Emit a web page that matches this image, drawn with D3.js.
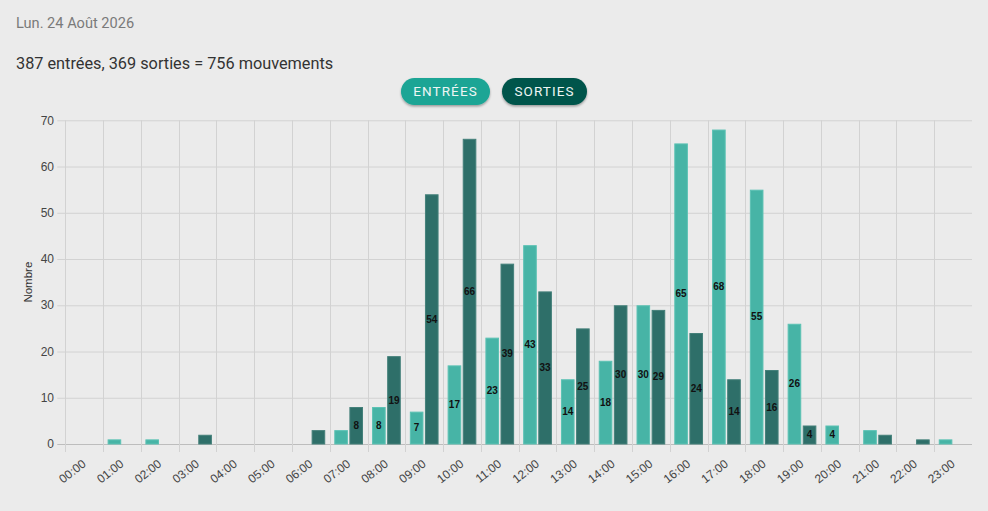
<!DOCTYPE html>
<html>
<head>
<meta charset="utf-8">
<script src="https://cdn.jsdelivr.net/npm/d3@7"></script>
<style>
  body { margin: 0; background: #ebebeb; overflow: hidden; }
  svg { display: block; }
</style>
</head>
<body>
<div id="canvas"></div>
<script>
// mouvements par heure : entrées / sorties
const hours = d3.range(0, 24);
const hourLabels = ["00:00","01:00","02:00","03:00","04:00","05:00","06:00","07:00","08:00","09:00","10:00","11:00",
                    "12:00","13:00","14:00","15:00","16:00","17:00","18:00","19:00","20:00","21:00","22:00","23:00"];
const entrees = [0, 1, 1, 0, 0, 0, 0, 3, 8, 7, 17, 23, 43, 14, 18, 30, 65, 68, 55, 26, 4, 3, 0, 1];
const sorties = [0, 0, 0, 2, 0, 0, 3, 8, 19, 54, 66, 39, 33, 25, 30, 29, 24, 14, 16, 4, 0, 2, 1, 0];
const yTicks = [0, 10, 20, 30, 40, 50, 60, 70];
const series = ["entrees", "sorties"];
const dateLabel = "Lun. 24 Août 2026";

const width = 988;
const height = 511;
const marginLeft = 65.3;
const marginRight = 16;
const marginTop = 120.3;
const plotBottom = 444;

const totalIn = d3.sum(entrees);
const totalOut = d3.sum(sorties);

const svg = d3.select("#canvas")
    .append("svg")
    .attr("width", width)
    .attr("height", height)
    .attr("viewBox", [0, 0, width, height]);

// shadow for the pills
const defs = svg.append("defs");
defs.append("filter")
    .attr("id", "shadow")
    .attr("x", "-20%").attr("y", "-30%").attr("width", "140%").attr("height", "170%")
  .append("feDropShadow")
    .attr("dx", 0).attr("dy", 1.5)
    .attr("stdDeviation", 1.3)
    .attr("flood-color", "#000")
    .attr("flood-opacity", 0.35);

// header
svg.append("text")
    .attr("x", 16).attr("y", 28)
    .attr("font-family", "Roboto, sans-serif")
    .attr("font-size", 14.6)
    .attr("fill", "#7a7a7a")
    .text(dateLabel);

svg.append("text")
    .attr("x", 16).attr("y", 69)
    .attr("font-family", "Roboto, sans-serif")
    .attr("font-size", 16.3)
    .attr("fill", "#333")
    .text(`${totalIn} entrées, ${totalOut} sorties = ${totalIn + totalOut} mouvements`);

// legend buttons
const buttons = [
    {label: "ENTRÉES", x: 401, w: 89, color: "#1ba595"},
    {label: "SORTIES", x: 502, w: 85, color: "#00554b"}
];
const btn = svg.append("g")
    .selectAll("g")
    .data(buttons)
    .join("g")
        .attr("transform", d => `translate(${d.x},78)`);
btn.append("rect")
    .attr("width", d => d.w)
    .attr("height", 27)
    .attr("rx", 13.5)
    .attr("fill", d => d.color)
    .attr("filter", "url(#shadow)");
btn.append("text")
    .attr("x", d => d.w / 2)
    .attr("y", 18.3)
    .attr("text-anchor", "middle")
    .attr("font-family", "Roboto, sans-serif")
    .attr("font-size", 13.5)
    .attr("letter-spacing", 1.1)
    .attr("fill", "#eef6f4")
    .text(d => d.label);

// scales
const x = d3.scaleBand()
    .domain(hours)
    .range([marginLeft, width - marginRight]);

const xSub = d3.scaleBand()
    .domain(series)
    .range([x.bandwidth() * 0.1, x.bandwidth() * 0.9])
    .paddingInner(0.1)
    .paddingOuter(0.05);

const y = d3.scaleLinear()
    .domain([0, 70])
    .range([plotBottom, marginTop]);

// grid
const grid = svg.append("g");
grid.selectAll(".h")
    .data(yTicks)
    .join("line")
        .attr("x1", marginLeft - 8)
        .attr("x2", width - marginRight)
        .attr("y1", d => y(d) + 0.5)
        .attr("y2", d => y(d) + 0.5)
        .attr("stroke", d => d === 0 ? "#bdbdbd" : "#d2d2d2")
        .attr("stroke-width", 1);

grid.selectAll(".v")
    .data(hours)
    .join("line")
        .attr("x1", d => Math.round(x(d)) + 0.5)
        .attr("x2", d => Math.round(x(d)) + 0.5)
        .attr("y1", marginTop)
        .attr("y2", plotBottom + 8)
        .attr("stroke", "#d2d2d2")
        .attr("stroke-width", 1);

// y labels
svg.append("g")
    .selectAll("text")
    .data(yTicks)
    .join("text")
        .attr("x", 54)
        .attr("y", d => y(d))
        .attr("dy", "0.35em")
        .attr("text-anchor", "end")
        .attr("font-family", "Liberation Sans, Arial, sans-serif")
        .attr("font-size", 12)
        .attr("fill", "#444")
        .text(d => d);

svg.append("text")
    .attr("transform", `translate(32,${(marginTop + plotBottom) / 2}) rotate(-90)`)
    .attr("text-anchor", "middle")
    .attr("font-family", "Liberation Sans, Arial, sans-serif")
    .attr("font-size", 11.5)
    .attr("fill", "#333")
    .text("Nombre");

// x labels
svg.append("g")
    .selectAll("text")
    .data(hours)
    .join("text")
        .attr("transform", d => `translate(${x(d) + x.bandwidth() / 2},462) rotate(-38)`)
        .attr("dy", "0.35em")
        .attr("text-anchor", "end")
        .attr("font-family", "Liberation Sans, Arial, sans-serif")
        .attr("font-size", 12)
        .attr("fill", "#444")
        .text(d => hourLabels[d]);

// bars
const rows = hours.map(h => ({hour: h, entrees: entrees[h], sorties: sorties[h]}));
const fill = {entrees: "#47b4a6", sorties: "#2e6f69"};
const stroke = {entrees: "#5cc2b4", sorties: "#44807a"};

const groups = svg.append("g")
    .selectAll("g")
    .data(rows)
    .join("g")
        .attr("transform", d => `translate(${x(d.hour)},0)`);

const bars = groups.selectAll("g")
    .data(d => series.map(s => ({key: s, value: d[s]})).filter(v => v.value > 0))
    .join("g");

bars.append("rect")
    .attr("x", d => xSub(d.key) + 0.5)
    .attr("y", d => y(d.value) + 0.5)
    .attr("width", xSub.bandwidth() - 1)
    .attr("height", d => y(0) - y(d.value) - 0.5)
    .attr("fill", d => fill[d.key])
    .attr("stroke", d => stroke[d.key])
    .attr("stroke-width", 1);

bars.filter(d => d.value >= 4)
  .append("text")
    .attr("x", d => xSub(d.key) + xSub.bandwidth() / 2)
    .attr("y", d => (y(d.value) + y(0)) / 2)
    .attr("dy", "0.35em")
    .attr("text-anchor", "middle")
    .attr("font-family", "Liberation Sans, Arial, sans-serif")
    .attr("font-weight", "bold")
    .attr("font-size", 10)
    .attr("fill", "#111")
    .text(d => d.value);
</script>
</body>
</html>
